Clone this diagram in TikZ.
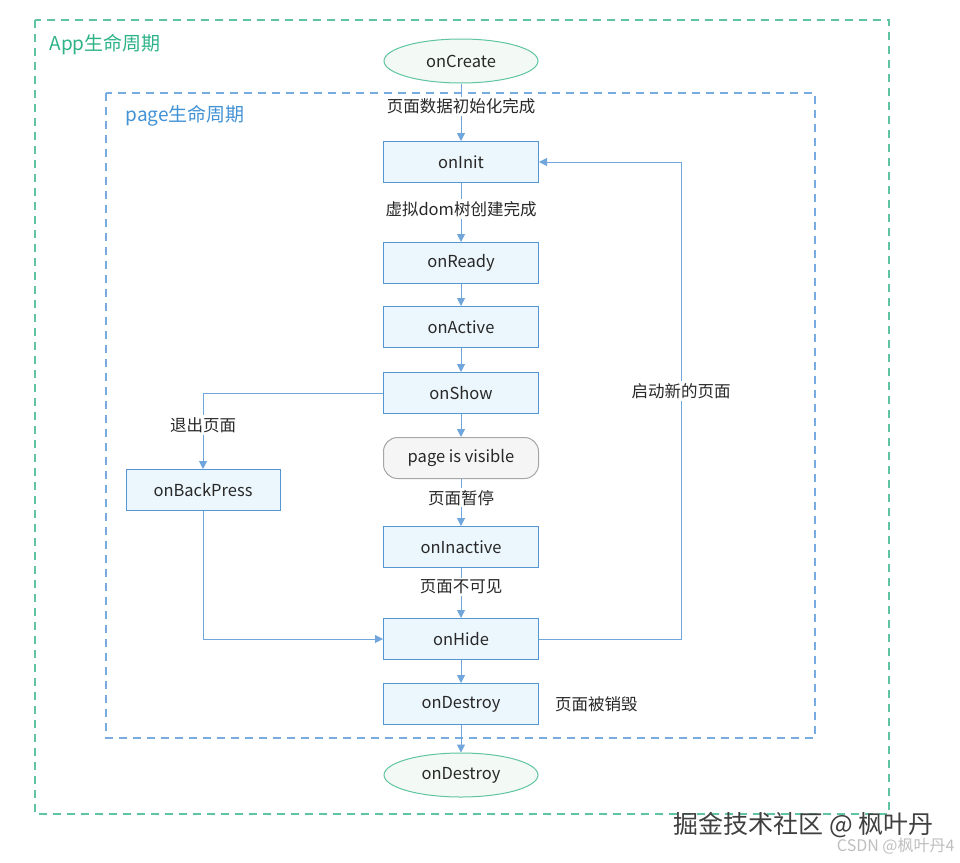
\documentclass[tikz,border=0pt]{standalone}
\usepackage{fontspec}
\setmainfont{Noto Sans CJK SC}
\usetikzlibrary{arrows.meta,shapes.geometric,positioning}
\definecolor{boxline}{RGB}{84,150,212}
\definecolor{boxfill}{RGB}{236,247,253}
\definecolor{arrowline}{RGB}{112,166,220}
\definecolor{appgreen}{RGB}{96,196,160}
\definecolor{ellfill}{RGB}{243,250,246}
\definecolor{pageframe}{RGB}{120,172,224}
\definecolor{applabel}{RGB}{46,178,136}
\definecolor{pagelabel}{RGB}{66,146,214}
\definecolor{ink}{RGB}{40,40,40}
\tikzset{
  hook/.style = {draw = boxline, fill = boxfill, line width = 1pt, minimum width = 155pt, minimum height = 41pt, inner sep = 0pt, text = ink},
  appstate/.style = {ellipse, draw = appgreen, fill = ellfill, line width = 1pt, minimum width = 154pt, minimum height = 44pt, inner sep = 0pt, text = ink},
  flow/.style = {draw = arrowline, line width = 1pt, -{Triangle[width = 8pt, length = 8pt]}},
  note/.style = {fill = white, inner sep = 2pt, text = ink}
}
\begin{document}
\begin{tikzpicture}[x = 1pt, y = -1pt, font = \fontsize{16.5}{19}\selectfont]
  \useasboundingbox [fill = white] (0, 0) rectangle (960, 862);
  % the two life cycles
  \draw [appgreen, line width = 1.6pt, dash pattern = on 8pt off 6pt] (35, 20) rectangle (889, 814);
  \draw [pageframe, line width = 1.6pt, dash pattern = on 8pt off 6pt] (106, 93) rectangle (815, 738);
  \node [anchor = west, text = applabel, font = \fontsize{19}{21}\selectfont] (applabel) at (46, 45) {App生命周期};
  \node [anchor = west, text = pagelabel, font = \fontsize{19}{21}\selectfont] (pagelabel) at (122, 116) {page生命周期};

  \node [appstate] (appcreate) at (461, 61) {onCreate};
  \node [hook] (init) at (461, 162) {onInit};
  \node [hook] (ready) at (461, 263) {onReady};
  \node [hook] (active) at (461, 327) {onActive};
  \node [hook] (show) at (461, 393) {onShow};
  \node [hook, draw = gray!70, fill = gray!8, rounded corners = 14pt] (visible) at (461, 458) {page is visible};
  \node [hook] (inactive) at (461, 547) {onInactive};
  \node [hook] (hide) at (461, 639) {onHide};
  \node [hook] (destroy) at (461, 704) {onDestroy};
  \node [appstate] (appdestroy) at (461, 775) {onDestroy};
  \node [hook, minimum width = 154pt] (back) at (203, 490) {onBackPress};
  \node [note, right = 14pt of destroy] (destroynote) {页面被销毁};
  \coordinate (turn) at (681, 639);

  \draw [flow] (appcreate) -- (init) node [note, pos = 0.4] {页面数据初始化完成};
  \draw [flow] (init) -- (ready) node [note, pos = 0.44] {虚拟dom树创建完成};
  \draw [flow] (ready) -- (active);
  \draw [flow] (active) -- (show);
  \draw [flow] (show) -- (visible);
  \draw [flow] (visible) -- (inactive) node [note, pos = 0.4] {页面暂停};
  \draw [flow] (inactive) -- (hide) node [note, pos = 0.38] {页面不可见};
  \draw [flow] (hide) -- (destroy);
  \draw [flow] (destroy) -- (appdestroy);
  \draw [flow] (show.west) -| (back.north) node [note, pos = 0.71] {退出页面};
  \draw [flow] (back.south) |- (hide.west);
  \draw [flow] (hide.east) -- (turn) |- (init.east) node [note, pos = 0.26] {启动新的页面};

  \node [anchor = east, text = black!75, font = \fontsize{25}{27}\selectfont] (juejin) at (937, 825) {掘金技术社区 @ 枫叶丹};
  \node [anchor = east, text = black!25, font = \fontsize{16}{18}\selectfont] (csdn) at (958, 846) {CSDN @枫叶丹4};
\end{tikzpicture}
\end{document}
